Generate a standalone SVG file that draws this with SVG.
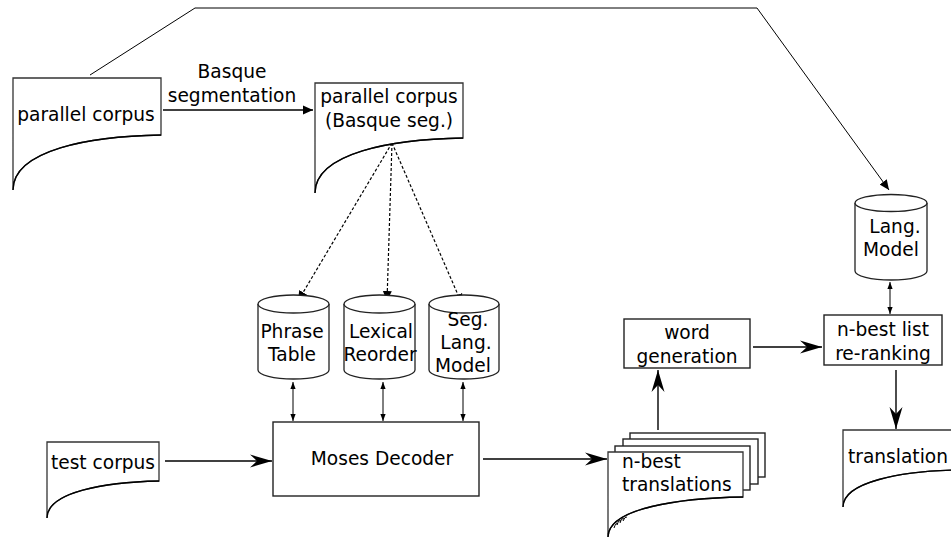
<svg xmlns="http://www.w3.org/2000/svg" width="951" height="539" viewBox="0 0 951 539">
  <defs>
    <style>
      .lbl { font-family: "DejaVu Sans", "Liberation Sans", sans-serif; font-size: 18.6px; fill: #000; }
      .mid { text-anchor: middle; }
      .doc { fill: #fff; stroke: #333; stroke-width: 1.3; }
      .curve { fill: none; stroke: #000; stroke-width: 1.3; }
      .box { fill: #fff; stroke: #222; stroke-width: 1.4; }
      .cyl { fill: #fff; stroke: #222; stroke-width: 1.3; }
      .edge { fill: none; stroke: #000; stroke-width: 1.4; }
      .thin { fill: none; stroke: #000; stroke-width: 1; }
      .dot { fill: none; stroke: #000; stroke-width: 1.2; stroke-dasharray: 3 2; }
    </style>
    <!-- notched arrowhead for main flow -->
    <marker id="stealth" markerUnits="userSpaceOnUse" markerWidth="24" markerHeight="16" viewBox="-22 -8 24 16" refX="0" refY="0" orient="auto">
      <path d="M0,0 L-22,-6.5 L-15,0 L-22,6.5 Z" fill="#000"/>
    </marker>
    <!-- small filled triangle -->
    <marker id="tri" markerUnits="userSpaceOnUse" markerWidth="12" markerHeight="10" viewBox="-10 -5 12 10" refX="0" refY="0" orient="auto">
      <path d="M0,0 L-10,-4.5 L-10,4.5 Z" fill="#000"/>
    </marker>
    <!-- tiny arrowhead for the bidirectional links -->
    <marker id="tiny" markerUnits="userSpaceOnUse" markerWidth="8" markerHeight="6" viewBox="-7 -3 8 6" refX="0" refY="0" orient="auto-start-reverse">
      <path d="M0,0 L-7,-2.6 L-7,2.6 Z" fill="#000"/>
    </marker>
  </defs>

  <!-- connectors -->
  <g id="connectors">
    <polyline class="thin" points="90,75 195,8 757,8 889,190" marker-end="url(#tri)"/>
    <line class="edge" x1="163" y1="110" x2="313" y2="110" marker-end="url(#tri)"/>
    <line class="dot" x1="392" y1="143" x2="298" y2="301" marker-end="url(#tri)"/>
    <line class="dot" x1="392" y1="143" x2="387" y2="301" marker-end="url(#tri)"/>
    <line class="dot" x1="392" y1="143" x2="462" y2="304" marker-end="url(#tri)"/>
    <line class="thin" x1="293" y1="382" x2="293" y2="421" marker-start="url(#tiny)" marker-end="url(#tiny)"/>
    <line class="thin" x1="383" y1="382" x2="383" y2="421" marker-start="url(#tiny)" marker-end="url(#tiny)"/>
    <line class="thin" x1="463" y1="382" x2="463" y2="421" marker-start="url(#tiny)" marker-end="url(#tiny)"/>
    <line class="thin" x1="890" y1="282" x2="890" y2="314" marker-start="url(#tiny)" marker-end="url(#tiny)"/>
    <line class="edge" x1="165" y1="461" x2="272" y2="461" marker-end="url(#stealth)"/>
    <line class="edge" x1="483" y1="459" x2="607" y2="459" marker-end="url(#stealth)"/>
    <line class="edge" x1="658" y1="430" x2="658" y2="370" marker-end="url(#stealth)"/>
    <line class="edge" x1="753" y1="347" x2="822" y2="347" marker-end="url(#stealth)"/>
    <line class="edge" x1="896" y1="370" x2="896" y2="429" marker-end="url(#stealth)"/>
  </g>

  <!-- source corpus -->
  <g id="parallel-corpus">
    <path class="doc" d="M13,190 L13,78 L161,78 L161,135 C90,136 13,150 13,190 Z"/>
    <path class="curve" d="M161,135 C90,136 13,150 13,190"/>
    <text class="lbl mid" x="86" y="121">parallel corpus</text>
  </g>

  <g id="segmentation-label">
    <text class="lbl mid" x="232" y="78">Basque</text>
    <text class="lbl mid" x="232" y="102">segmentation</text>
  </g>

  <g id="segmented-corpus">
    <path class="doc" d="M315,193 L315,83 L463,83 L463,138 C392,139 315,153 315,193 Z"/>
    <path class="curve" d="M463,138 C392,139 315,153 315,193"/>
    <text class="lbl mid" x="389" y="103">parallel corpus</text>
    <text class="lbl mid" x="389" y="127">(Basque seg.)</text>
  </g>

  <!-- model stores -->
  <g id="phrase-table">
    <path class="cyl" d="M258,304 L258,370 A35.5,9 0 0 0 329,370 L329,304"/>
    <ellipse class="cyl" cx="293.5" cy="304" rx="35.5" ry="9"/>
    <text class="lbl mid" x="292" y="338">Phrase</text>
    <text class="lbl mid" x="292" y="361">Table</text>
  </g>

  <g id="lexical-reorder">
    <path class="cyl" d="M344,304 L344,370 A35.5,9 0 0 0 415,370 L415,304"/>
    <ellipse class="cyl" cx="379.5" cy="304" rx="35.5" ry="9"/>
    <text class="lbl mid" x="381" y="338">Lexical</text>
    <text class="lbl mid" x="380" y="361">Reorder</text>
  </g>

  <g id="seg-lang-model">
    <path class="cyl" d="M429,304 L429,370 A35,9 0 0 0 499,370 L499,304"/>
    <ellipse class="cyl" cx="464" cy="304" rx="35" ry="9"/>
    <text class="lbl mid" x="468" y="326">Seg.</text>
    <text class="lbl mid" x="466" y="349">Lang.</text>
    <text class="lbl mid" x="463" y="372">Model</text>
  </g>

  <g id="test-corpus">
    <path class="doc" d="M47,518 L47,442 L159,442 L159,481 C105,482 47,492 47,518 Z"/>
    <path class="curve" d="M159,481 C105,482 47,492 47,518"/>
    <text class="lbl mid" x="103" y="469">test corpus</text>
  </g>

  <g id="moses-decoder">
    <rect class="box" x="273" y="422" width="206" height="74"/>
    <text class="lbl mid" x="382" y="465">Moses Decoder</text>
  </g>

  <!-- stacked n-best output pages -->
  <g id="n-best-translations">
    <rect class="box" x="630" y="433" width="135" height="44"/>
    <rect class="box" x="623" y="439" width="135" height="45"/>
    <rect class="box" x="615" y="446" width="135" height="44"/>
    <path class="doc" d="M608,537 L608,452 L743,452 L743,497 C680,498 608,508 608,537 Z"/>
    <path class="curve" d="M743,497 C680,498 608,508 608,537"/>
    <path class="thin" d="M614,528 q2,-6 4,-4 M617,525 q2,-6 4,-4 M620,523 q2,-6 4,-4 M623,521 q2,-5 4,-4"/>
    <text class="lbl" x="622" y="468">n-best</text>
    <text class="lbl" x="622" y="491">translations</text>
  </g>

  <g id="word-generation">
    <rect class="box" x="624" y="319" width="126" height="49"/>
    <text class="lbl mid" x="687" y="339">word</text>
    <text class="lbl mid" x="687" y="363">generation</text>
  </g>

  <g id="lang-model">
    <path class="cyl" d="M855,203 L855,271 A36,9 0 0 0 927,271 L927,203"/>
    <ellipse class="cyl" cx="891" cy="203" rx="36" ry="8.5"/>
    <text class="lbl mid" x="895" y="233">Lang.</text>
    <text class="lbl mid" x="891" y="256">Model</text>
  </g>

  <g id="n-best-reranking">
    <rect class="box" x="824" y="315" width="118" height="50"/>
    <text class="lbl mid" x="883" y="336">n-best list</text>
    <text class="lbl mid" x="883" y="360">re-ranking</text>
  </g>

  <g id="translation">
    <path class="doc" d="M843,507 L843,430 L960,430 L960,470 C900,471 843,482 843,507 Z"/>
    <path class="curve" d="M960,470 C900,471 843,482 843,507"/>
    <text class="lbl" x="848" y="463">translation</text>
  </g>
</svg>
